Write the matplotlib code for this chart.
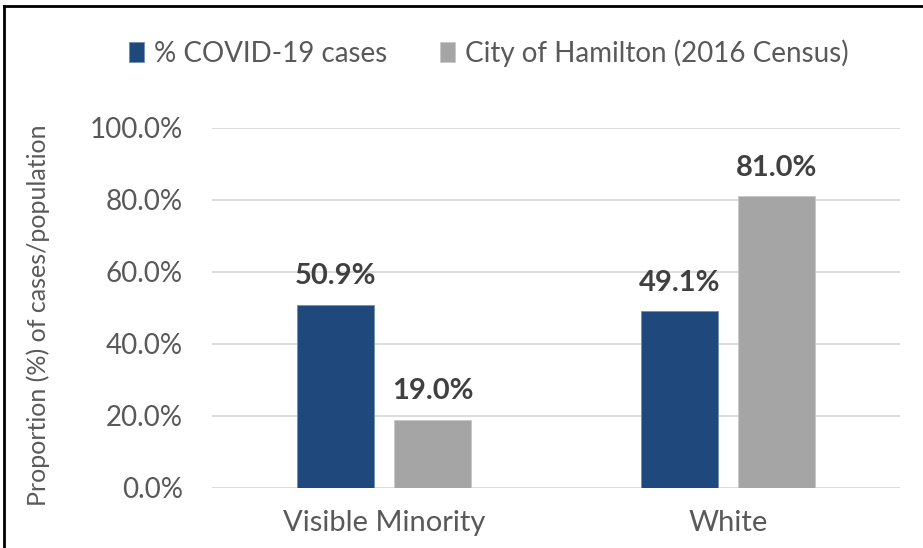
import matplotlib.pyplot as plt
from matplotlib.lines import Line2D
from matplotlib.ticker import FuncFormatter
import numpy as np

categories = ["Visible Minority", "White"]
covid_cases = [50.9, 49.1]
hamilton_census = [19.0, 81.0]
series_names = ["% COVID-19 cases", "City of Hamilton (2016 Census)"]
yticks = [0, 20, 40, 60, 80, 100]

plt.rcParams['font.family'] = ['Lato', 'DejaVu Sans']

fig = plt.figure(figsize=(9.23, 5.48), dpi=100)
ax = fig.add_axes([212/923, 1-488/548, 688/923, 360/548])

x = np.arange(len(categories))
w = 0.224
b1 = ax.bar(x - 0.142, covid_cases, w, color="#1F497D", edgecolor="#6F8FB5", linewidth=0.6,
            label=series_names[0], zorder=3)
b2 = ax.bar(x + 0.142, hamilton_census, w, color="#A5A5A5", edgecolor="#C8C8C8", linewidth=0.6,
            label=series_names[1], zorder=3)

for bars in (b1, b2):
    for r in bars:
        ax.annotate(f"{r.get_height():.1f}%", (r.get_x() + r.get_width()/2, r.get_height()),
                    xytext=(0, 11), textcoords="offset points", ha="center", va="bottom",
                    fontsize=21, fontweight="bold", color="#404040")

ax.set_xlim(-0.5, 1.5)
ax.set_ylim(0, 100)
ax.set_yticks(yticks)
ax.yaxis.set_major_formatter(FuncFormatter(lambda v, p: f"{v:.1f}%"))
ax.set_xticks(x)
ax.set_xticklabels(categories)
ax.tick_params(axis="y", length=0, labelsize=20, colors="#595959", pad=21)
ax.tick_params(axis="x", length=0, labelsize=21, colors="#595959", pad=16)
ax.grid(axis="y", color="#D9D9D9", linewidth=1.3, zorder=0)
for s in ax.spines.values():
    s.set_visible(False)

ax.set_ylabel("Proportion (%) of cases/population", fontsize=18, color="#595959")
ax.yaxis.set_label_coords(-0.235, 0.48)

ax.legend(loc="center", bbox_to_anchor=(489/923, 1-53/548), bbox_transform=fig.transFigure,
          ncol=2, frameon=False, fontsize=20, handlelength=0.55, handleheight=0.75,
          handletextpad=0.35, columnspacing=1.9, labelcolor="#595959")

# outer frame (left and top edges visible)
fig.add_artist(Line2D([4/923, 4/923], [0, 1-6/548], transform=fig.transFigure, color="black", linewidth=2))
fig.add_artist(Line2D([4/923, 1], [1-6/548, 1-6/548], transform=fig.transFigure, color="black", linewidth=2))

fig.savefig("out.png", dpi=100)
